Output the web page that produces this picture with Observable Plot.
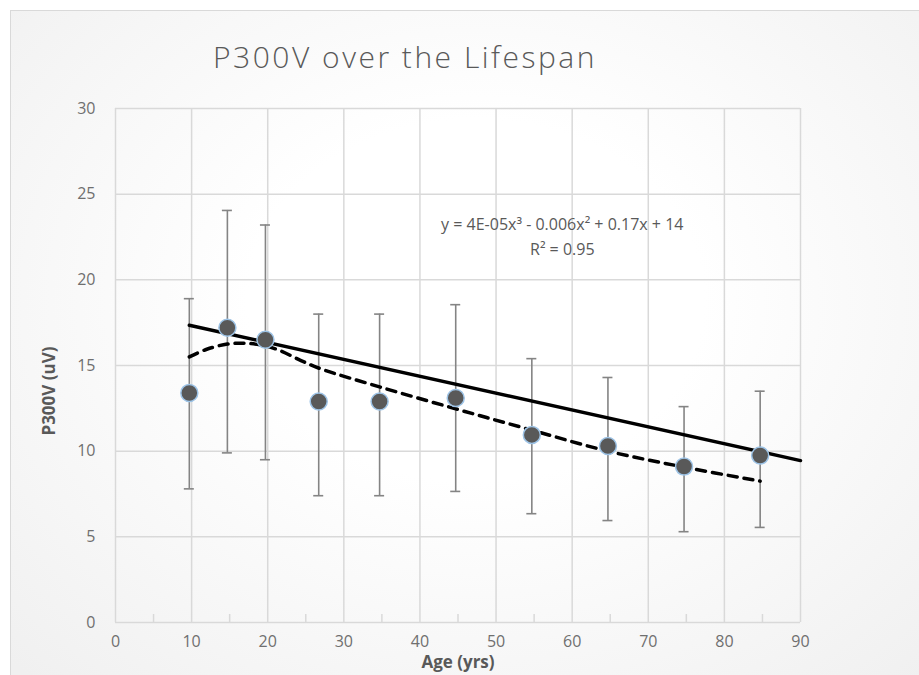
<!DOCTYPE html>
<html>
<head>
<meta charset="utf-8">
<script src="https://cdn.jsdelivr.net/npm/d3@7"></script>
<script src="https://cdn.jsdelivr.net/npm/@observablehq/plot@0.6"></script>
<style>
  html, body { margin: 0; padding: 0; background: #ffffff; }
  #wrap { position: relative; width: 919px; height: 675px; overflow: hidden; font-family: "Open Sans", "Noto Sans", sans-serif; }
  #bg { position: absolute; left: 10px; top: 10px; width: 930px; height: 690px; border: 1px solid #d9d9d9;
        background: radial-gradient(ellipse 70% 75% at 50% 42%, #ffffff 35%, #f0f0f0 100%); }
  #title { position: absolute; left: 0; width: 810px; top: 36px; text-align: center; font-size: 30px; font-weight: 300;
           letter-spacing: 2.5px; color: #595959; }
  #xlab { position: absolute; left: 358px; width: 200px; top: 652px; line-height: 20px; text-align: center; font-size: 17px; font-weight: 700; color: #595959; }
  #ylab { position: absolute; left: 48px; top: 391px; transform: translate(-50%, -50%) rotate(-90deg); font-size: 17px; font-weight: 700;
          color: #595959; white-space: nowrap; }
  #chart { position: absolute; left: 0; top: 0; }
</style>
</head>
<body>
<div id="wrap">
  <div id="bg"></div>
  <div id="chart"></div>
  <div id="title">P300V over the Lifespan</div>
  <div id="xlab">Age (yrs)</div>
  <div id="ylab">P300V (uV)</div>
</div>
<script>
// Data
const ages   = [9.7, 14.7, 19.7, 26.7, 34.7, 44.7, 54.7, 64.7, 74.7, 84.7];
const values = [13.4, 17.2, 16.5, 12.9, 12.9, 13.1, 10.95, 10.3, 9.1, 9.75];
const lower  = [7.8, 9.9, 9.5, 7.4, 7.4, 7.65, 6.35, 5.95, 5.3, 5.55];
const upper  = [18.9, 24.05, 23.2, 18.0, 18.0, 18.55, 15.4, 14.3, 12.6, 13.5];

// Linear trend line (solid), endpoints
const linAges = [9.7, 90];
const linVals = [17.35, 9.45];

// Polynomial trend line (dashed)
const polyAges = [9.7, 12, 14.7, 17, 19.7, 21.7, 24.3, 27, 34.8, 44.7, 54.5, 64.7, 74.7, 84.7];
const polyVals = [15.5, 15.95, 16.25, 16.3, 16.15, 15.85, 15.3, 14.8, 13.74, 12.47, 11.25, 10.0, 9.07, 8.25];

const xTicks = [0, 10, 20, 30, 40, 50, 60, 70, 80, 90];
const yTicks = [0, 5, 10, 15, 20, 25, 30];
const minorX = [5, 15, 25, 35, 45, 55, 65, 75, 85];

const eqLines = [
  {x: 58.7, y: 23.2, text: "y = 4E-05x³ - 0.006x² + 0.17x + 14"},
  {x: 58.7, y: 21.75, text: "R² = 0.95"}
];

const pts = ages.map((a, i) => ({age: a, val: values[i], lo: lower[i], hi: upper[i]}));
const lin = linAges.map((a, i) => ({age: a, val: linVals[i]}));
const poly = polyAges.map((a, i) => ({age: a, val: polyVals[i]}));

const grid = "#d9d9d9";
const tickColor = "#6f6f6f";
const plot = Plot.plot({
  width: 919,
  height: 675,
  marginLeft: 115,
  marginRight: 119,
  marginTop: 108,
  marginBottom: 53,
  style: {background: "transparent", fontFamily: "'Open Sans', 'Noto Sans', sans-serif", fontSize: "16px", color: tickColor},
  x: {domain: [0, 90]},
  y: {domain: [0, 30]},
  marks: [
    Plot.gridX(xTicks, {stroke: grid, strokeOpacity: 1, strokeWidth: 1.5}),
    Plot.gridY(yTicks, {stroke: grid, strokeOpacity: 1, strokeWidth: 1.5}),
    Plot.ruleX(minorX, {x: d => d, y1: 0, y2: 0, insetTop: -8, stroke: grid, strokeWidth: 1.5}),
    Plot.axisX(xTicks, {tickSize: 0, tickPadding: 13, label: null, fill: tickColor, fontSize: 16, style: "letter-spacing:1.5px"}),
    Plot.axisY(yTicks, {tickSize: 0, tickPadding: 20, label: null, fill: tickColor, fontSize: 16, style: "letter-spacing:1.5px"}),
    Plot.text(eqLines, {x: "x", y: "y", text: "text", fill: "#595959", fontSize: 16, textAnchor: "middle", style: "letter-spacing:1.6px"}),
    Plot.ruleX(pts, {x: "age", y1: "lo", y2: "hi", stroke: "#848484", strokeWidth: 1.6}),
    Plot.ruleY(pts, {y: "hi", x1: "age", x2: "age", insetLeft: -5, insetRight: -5, stroke: "#848484", strokeWidth: 1.6}),
    Plot.ruleY(pts, {y: "lo", x1: "age", x2: "age", insetLeft: -5, insetRight: -5, stroke: "#848484", strokeWidth: 1.6}),
    Plot.line(lin, {x: "age", y: "val", stroke: "#000", strokeWidth: 3.5}),
    Plot.line(poly, {x: "age", y: "val", stroke: "#000", strokeWidth: 3.5, strokeDasharray: "9,7", strokeLinecap: "round", curve: "catmull-rom"}),
    Plot.dot(pts, {x: "age", y: "val", r: 8.5, fill: "#595959", stroke: "#9dc3e6", strokeWidth: 1.5})
  ]
});
document.getElementById("chart").appendChild(plot);
</script>
</body>
</html>
